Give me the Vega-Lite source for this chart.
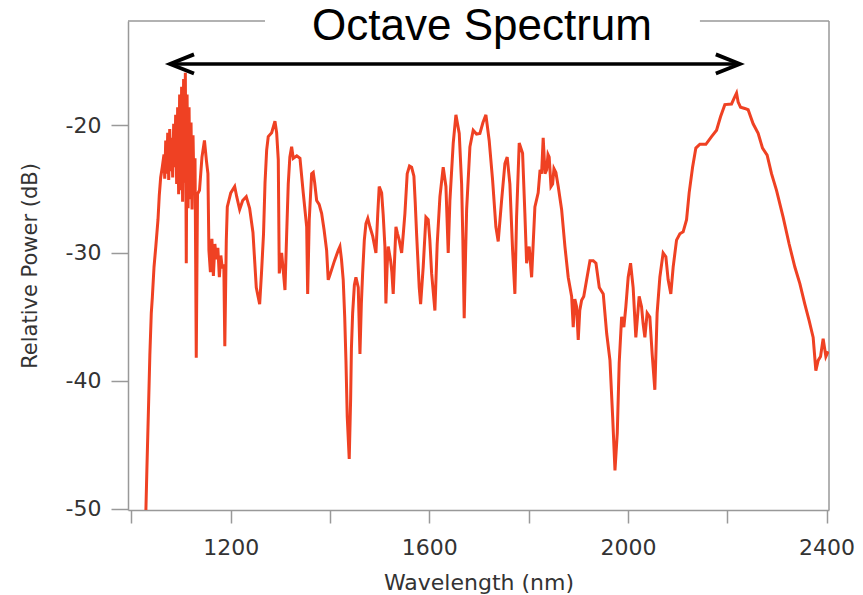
{
  "$schema": "https://vega.github.io/schema/vega-lite/v6.json",
  "width": 701,
  "height": 489,
  "autosize": {"type": "none"},
  "padding": {"left": 128, "top": 21, "right": 34, "bottom": 85},
  "background": "white",
  "config": {"view": {"stroke": null}},
  "datasets": {
    "spectrum": [
      {"wavelength": 1028.5, "power": -51}, {"wavelength": 1031, "power": -47}, {"wavelength": 1034.7, "power": -41.5}, {"wavelength": 1037, "power": -38}, {"wavelength": 1039.9, "power": -34.7}, {"wavelength": 1042, "power": -33.5}, {"wavelength": 1045.4, "power": -31.1}, {"wavelength": 1049, "power": -29.5}, {"wavelength": 1053.4, "power": -27.4}, {"wavelength": 1056, "power": -25.5}, {"wavelength": 1058.8, "power": -24.1}, {"wavelength": 1062, "power": -23.3}, {"wavelength": 1065.5, "power": -22.3},
      {"wavelength": 1067, "power": -24.2}, {"wavelength": 1069, "power": -21.2}, {"wavelength": 1071, "power": -23.8}, {"wavelength": 1073, "power": -20.6}, {"wavelength": 1075, "power": -24.3}, {"wavelength": 1077, "power": -20.3}, {"wavelength": 1079, "power": -23.6}, {"wavelength": 1081, "power": -21.0}, {"wavelength": 1083, "power": -24.1}, {"wavelength": 1085, "power": -19.9}, {"wavelength": 1087, "power": -23.3}, {"wavelength": 1089, "power": -19.2}, {"wavelength": 1091, "power": -24.6}, {"wavelength": 1093, "power": -18.6}, {"wavelength": 1095, "power": -25.4}, {"wavelength": 1097, "power": -17.6}, {"wavelength": 1099, "power": -25.1}, {"wavelength": 1101, "power": -17.0}, {"wavelength": 1103, "power": -26.0}, {"wavelength": 1105, "power": -16.4}, {"wavelength": 1107, "power": -24.5}, {"wavelength": 1108.5, "power": -15.9}, {"wavelength": 1110.4, "power": -30.8}, {"wavelength": 1112, "power": -17.6}, {"wavelength": 1114, "power": -26.5}, {"wavelength": 1116, "power": -18.6}, {"wavelength": 1118, "power": -25.8}, {"wavelength": 1120, "power": -19.8}, {"wavelength": 1122, "power": -26.6}, {"wavelength": 1124, "power": -20.8}, {"wavelength": 1126, "power": -25.4}, {"wavelength": 1128, "power": -22.6}, {"wavelength": 1130.5, "power": -38.2}, {"wavelength": 1133, "power": -25.4}, {"wavelength": 1137, "power": -25.1}, {"wavelength": 1142, "power": -22.5}, {"wavelength": 1147, "power": -21.2}, {"wavelength": 1151, "power": -22.8}, {"wavelength": 1154, "power": -23.8},
      {"wavelength": 1156, "power": -29.8}, {"wavelength": 1159, "power": -31.5}, {"wavelength": 1162, "power": -28.9}, {"wavelength": 1165, "power": -31.8}, {"wavelength": 1168, "power": -29.3}, {"wavelength": 1171, "power": -30.5}, {"wavelength": 1174, "power": -29.6}, {"wavelength": 1177, "power": -31.9}, {"wavelength": 1180, "power": -30.2}, {"wavelength": 1183, "power": -31.2}, {"wavelength": 1186, "power": -30.9}, {"wavelength": 1188, "power": -37.3}, {"wavelength": 1191, "power": -29.0}, {"wavelength": 1193, "power": -26.4}, {"wavelength": 1200, "power": -25.3}, {"wavelength": 1207.9, "power": -24.8}, {"wavelength": 1212, "power": -25.6}, {"wavelength": 1217.9, "power": -26.6}, {"wavelength": 1224, "power": -25.9}, {"wavelength": 1231.2, "power": -25.6}, {"wavelength": 1238, "power": -26.5}, {"wavelength": 1244.7, "power": -28.4}, {"wavelength": 1251.4, "power": -32.7}, {"wavelength": 1255, "power": -33.4}, {"wavelength": 1258.2, "power": -34.0}, {"wavelength": 1262, "power": -31.5}, {"wavelength": 1266, "power": -28.5}, {"wavelength": 1269, "power": -24.5}, {"wavelength": 1272.3, "power": -21.95}, {"wavelength": 1275.5, "power": -20.9}, {"wavelength": 1282.4, "power": -20.6}, {"wavelength": 1289, "power": -19.7}, {"wavelength": 1292.4, "power": -20.6}, {"wavelength": 1295.7, "power": -22.7}, {"wavelength": 1297.7, "power": -31.6}, {"wavelength": 1302.5, "power": -30.0}, {"wavelength": 1306, "power": -31.5}, {"wavelength": 1309.2, "power": -32.9}, {"wavelength": 1312.6, "power": -28.5}, {"wavelength": 1315.8, "power": -24.6}, {"wavelength": 1319, "power": -22.5}, {"wavelength": 1322.6, "power": -21.7}, {"wavelength": 1325.9, "power": -22.6}, {"wavelength": 1333, "power": -22.4}, {"wavelength": 1339.4, "power": -22.6}, {"wavelength": 1346, "power": -25.3}, {"wavelength": 1352.9, "power": -27.95}, {"wavelength": 1354.9, "power": -33.2}, {"wavelength": 1358.1, "power": -27.4}, {"wavelength": 1362.9, "power": -23.8}, {"wavelength": 1366.1, "power": -23.7}, {"wavelength": 1369, "power": -24.5}, {"wavelength": 1373, "power": -25.9}, {"wavelength": 1378, "power": -26.2}, {"wavelength": 1383, "power": -26.9}, {"wavelength": 1388, "power": -28.2}, {"wavelength": 1393.1, "power": -29.8}, {"wavelength": 1396.3, "power": -32.1}, {"wavelength": 1399, "power": -31.8}, {"wavelength": 1403.2, "power": -31.3}, {"wavelength": 1409, "power": -30.6}, {"wavelength": 1416.5, "power": -29.8}, {"wavelength": 1419.9, "power": -29.5}, {"wavelength": 1423, "power": -30.5}, {"wavelength": 1426.5, "power": -32.1}, {"wavelength": 1429.5, "power": -35}, {"wavelength": 1432, "power": -38.4}, {"wavelength": 1434.6, "power": -42.8}, {"wavelength": 1438.6, "power": -46.1}, {"wavelength": 1441.4, "power": -41.5}, {"wavelength": 1443, "power": -37.5}, {"wavelength": 1445.5, "power": -34.7}, {"wavelength": 1449, "power": -32.5}, {"wavelength": 1452.1, "power": -31.9}, {"wavelength": 1456.8, "power": -32.7}, {"wavelength": 1460.2, "power": -37.9}, {"wavelength": 1463, "power": -34}, {"wavelength": 1465.6, "power": -31.6}, {"wavelength": 1469, "power": -29}, {"wavelength": 1472.3, "power": -27.7}, {"wavelength": 1476, "power": -27.3}, {"wavelength": 1480.3, "power": -27.95}, {"wavelength": 1486, "power": -28.7}, {"wavelength": 1492.4, "power": -30.0}, {"wavelength": 1496, "power": -27}, {"wavelength": 1499, "power": -24.8}, {"wavelength": 1503.9, "power": -25.3}, {"wavelength": 1507, "power": -27}, {"wavelength": 1510.5, "power": -29.5}, {"wavelength": 1512.5, "power": -33.95}, {"wavelength": 1515, "power": -31}, {"wavelength": 1517.2, "power": -29.5}, {"wavelength": 1522, "power": -30.6}, {"wavelength": 1524.5, "power": -31.5}, {"wavelength": 1527.2, "power": -33.2}, {"wavelength": 1530, "power": -30.5}, {"wavelength": 1532.7, "power": -27.95}, {"wavelength": 1536, "power": -28.5}, {"wavelength": 1539.3, "power": -29.0}, {"wavelength": 1544.2, "power": -30.0}, {"wavelength": 1547.5, "power": -28.5}, {"wavelength": 1550.8, "power": -26.9}, {"wavelength": 1555.4, "power": -23.8}, {"wavelength": 1560, "power": -23.2}, {"wavelength": 1564.3, "power": -23.3}, {"wavelength": 1568.9, "power": -24.0}, {"wavelength": 1571.5, "power": -26}, {"wavelength": 1574.3, "power": -28.5}, {"wavelength": 1579.6, "power": -32.7}, {"wavelength": 1582.4, "power": -34.0}, {"wavelength": 1587.6, "power": -31.1}, {"wavelength": 1593.1, "power": -27.2}, {"wavelength": 1597.7, "power": -27.4}, {"wavelength": 1601, "power": -29}, {"wavelength": 1604.6, "power": -31.6}, {"wavelength": 1611.2, "power": -34.5}, {"wavelength": 1615.8, "power": -29.3}, {"wavelength": 1621.3, "power": -25.6}, {"wavelength": 1627.9, "power": -23.3}, {"wavelength": 1633.4, "power": -24.8}, {"wavelength": 1638, "power": -30.0}, {"wavelength": 1641.4, "power": -25.9}, {"wavelength": 1648.1, "power": -21.4}, {"wavelength": 1653.5, "power": -19.2}, {"wavelength": 1660.2, "power": -20.65}, {"wavelength": 1665, "power": -24.6}, {"wavelength": 1667.5, "power": -29}, {"wavelength": 1670.2, "power": -35.1}, {"wavelength": 1673, "power": -30}, {"wavelength": 1675.1, "power": -26.6}, {"wavelength": 1681.7, "power": -21.7}, {"wavelength": 1688.3, "power": -20.4}, {"wavelength": 1695, "power": -20.7}, {"wavelength": 1701.8, "power": -20.65}, {"wavelength": 1708, "power": -19.8}, {"wavelength": 1713.9, "power": -19.2}, {"wavelength": 1720.5, "power": -21.2}, {"wavelength": 1727.4, "power": -24.3}, {"wavelength": 1734, "power": -27.95}, {"wavelength": 1738.7, "power": -29.1}, {"wavelength": 1745.5, "power": -25.9}, {"wavelength": 1752.2, "power": -23.0}, {"wavelength": 1756.8, "power": -22.5}, {"wavelength": 1762.2, "power": -24.6}, {"wavelength": 1767.7, "power": -29.8}, {"wavelength": 1772.3, "power": -33.2}, {"wavelength": 1775.7, "power": -27.2}, {"wavelength": 1781, "power": -21.4}, {"wavelength": 1787.8, "power": -22.2}, {"wavelength": 1792.4, "power": -26.9}, {"wavelength": 1795.9, "power": -30.8}, {"wavelength": 1801.1, "power": -29.5}, {"wavelength": 1806, "power": -31.9}, {"wavelength": 1812.6, "power": -26.4}, {"wavelength": 1819.2, "power": -25.3}, {"wavelength": 1823, "power": -23.5}, {"wavelength": 1826.1, "power": -23.8}, {"wavelength": 1829.3, "power": -21.0}, {"wavelength": 1833, "power": -23.8}, {"wavelength": 1836.2, "power": -23.5}, {"wavelength": 1839, "power": -22.3}, {"wavelength": 1841.4, "power": -22.5}, {"wavelength": 1845, "power": -24.8}, {"wavelength": 1848.3, "power": -24.6}, {"wavelength": 1851, "power": -23.4}, {"wavelength": 1854.9, "power": -23.7}, {"wavelength": 1859.6, "power": -24.8}, {"wavelength": 1866.4, "power": -26.6}, {"wavelength": 1873.1, "power": -29.5}, {"wavelength": 1879.7, "power": -31.9}, {"wavelength": 1886.6, "power": -33.4}, {"wavelength": 1889.8, "power": -35.8}, {"wavelength": 1893, "power": -33.6}, {"wavelength": 1896.6, "power": -34.2}, {"wavelength": 1899.9, "power": -36.8}, {"wavelength": 1903, "power": -34.5}, {"wavelength": 1906.7, "power": -33.7}, {"wavelength": 1911, "power": -33.4}, {"wavelength": 1916.8, "power": -32.1}, {"wavelength": 1923.5, "power": -30.6}, {"wavelength": 1930.1, "power": -30.6}, {"wavelength": 1935.6, "power": -30.8}, {"wavelength": 1942.3, "power": -32.7}, {"wavelength": 1950.3, "power": -33.2}, {"wavelength": 1957.2, "power": -36.3}, {"wavelength": 1963.8, "power": -38.4}, {"wavelength": 1969.2, "power": -42.8}, {"wavelength": 1973.9, "power": -47.0}, {"wavelength": 1978.5, "power": -44.1}, {"wavelength": 1982.4, "power": -38.6}, {"wavelength": 1987.3, "power": -35.0}, {"wavelength": 1991.8, "power": -35.8}, {"wavelength": 1995.8, "power": -34.2}, {"wavelength": 2000.5, "power": -31.9}, {"wavelength": 2005.3, "power": -30.8}, {"wavelength": 2010.5, "power": -32.7}, {"wavelength": 2015.9, "power": -36.6}, {"wavelength": 2022.6, "power": -33.4}, {"wavelength": 2027.4, "power": -34.2}, {"wavelength": 2030.5, "power": -35.5}, {"wavelength": 2034.1, "power": -36.6}, {"wavelength": 2038.7, "power": -34.7}, {"wavelength": 2044.1, "power": -35.0}, {"wavelength": 2048.8, "power": -37.9}, {"wavelength": 2054.2, "power": -40.7}, {"wavelength": 2058.8, "power": -34.7}, {"wavelength": 2064.3, "power": -31.9}, {"wavelength": 2070.9, "power": -30.0}, {"wavelength": 2076.4, "power": -30.3}, {"wavelength": 2081, "power": -32.1}, {"wavelength": 2086.4, "power": -33.2}, {"wavelength": 2091.1, "power": -31.1}, {"wavelength": 2097.9, "power": -29.0}, {"wavelength": 2104.6, "power": -28.5}, {"wavelength": 2111.2, "power": -28.35}, {"wavelength": 2118.1, "power": -27.4}, {"wavelength": 2123.3, "power": -25.3}, {"wavelength": 2130.2, "power": -23.3}, {"wavelength": 2136.8, "power": -21.8}, {"wavelength": 2144.9, "power": -21.5}, {"wavelength": 2157, "power": -21.5}, {"wavelength": 2168.4, "power": -20.9}, {"wavelength": 2178.5, "power": -20.4}, {"wavelength": 2186.5, "power": -19.35}, {"wavelength": 2195.2, "power": -18.4}, {"wavelength": 2208.7, "power": -18.35}, {"wavelength": 2214, "power": -17.9}, {"wavelength": 2218.8, "power": -17.5}, {"wavelength": 2222, "power": -18.2}, {"wavelength": 2226.8, "power": -18.6}, {"wavelength": 2235.5, "power": -18.7}, {"wavelength": 2242.1, "power": -18.8}, {"wavelength": 2252.2, "power": -19.9}, {"wavelength": 2262.3, "power": -20.65}, {"wavelength": 2271.1, "power": -21.8}, {"wavelength": 2280.4, "power": -22.35}, {"wavelength": 2289.2, "power": -23.8}, {"wavelength": 2299.3, "power": -25.1}, {"wavelength": 2312.6, "power": -27.2}, {"wavelength": 2324.7, "power": -29.3}, {"wavelength": 2336.2, "power": -31.1}, {"wavelength": 2346.3, "power": -32.4}, {"wavelength": 2356.3, "power": -34.0}, {"wavelength": 2365, "power": -35.3}, {"wavelength": 2373.1, "power": -36.6}, {"wavelength": 2378.5, "power": -39.2}, {"wavelength": 2383.2, "power": -38.4}, {"wavelength": 2388, "power": -38.1}, {"wavelength": 2393.2, "power": -36.7}, {"wavelength": 2398.7, "power": -38.1}, {"wavelength": 2403.3, "power": -37.7}
    ],
    "frame": [
      {"wavelength": 993, "wavelength2": 1269, "power": -11.86, "power2": -11.86},
      {"wavelength": 2145, "wavelength2": 2405, "power": -11.86, "power2": -11.86},
      {"wavelength": 2405, "wavelength2": 2405, "power": -50.1, "power2": -11.86}
    ],
    "arrow": [
      {"wavelength": 1078, "wavelength2": 2225, "power": -15.22}
    ],
    "heads": [
      {"wavelength": 1077.6, "power": -15.22, "dir": "left"},
      {"wavelength": 2225.4, "power": -15.22, "dir": "right"}
    ],
    "heading": [
      {"wavelength": 1706, "power": -13.35, "label": "Octave Spectrum"}
    ]
  },
  "encoding": {
    "x": {
      "field": "wavelength", "type": "quantitative",
      "scale": {"domain": [993, 2405], "nice": false, "zero": false},
      "axis": {
        "title": "Wavelength (nm)",
        "values": [1000, 1200, 1400, 1600, 1800, 2000, 2200, 2400],
        "labelExpr": "datum.value % 400 === 0 ? toString(datum.value) : ''",
        "grid": false,
        "domainColor": "#999999", "domainWidth": 1.5,
        "tickColor": "#999999", "tickWidth": 1.5, "tickSize": 13,
        "labelFont": "DejaVu Sans", "labelFontSize": 22, "labelColor": "#333333", "labelPadding": 14,
        "labelFlush": false, "labelOverlap": false,
        "titleFont": "DejaVu Sans", "titleFontSize": 22, "titleFontWeight": "normal", "titleColor": "#333333",
        "titleBaseline": "alphabetic", "titleY": 79,
        "encode": {"ticks": {"update": {"y2": {"signal": "datum.value % 400 === 0 ? 13 : 7"}}}}
      }
    },
    "y": {
      "field": "power", "type": "quantitative",
      "scale": {"domain": [-50.1, -11.86], "nice": false, "zero": false},
      "axis": {
        "title": "Relative Power (dB)",
        "values": [-20, -30, -40, -50],
        "labelExpr": "toString(datum.value)",
        "grid": false,
        "domainColor": "#999999", "domainWidth": 1.5,
        "tickColor": "#999999", "tickWidth": 1.5, "tickSize": 17,
        "labelFont": "DejaVu Sans", "labelFontSize": 22, "labelColor": "#333333", "labelPadding": 10,
        "labelFlush": false, "labelOverlap": false,
        "titleFont": "DejaVu Sans", "titleFontSize": 21, "titleFontWeight": "normal", "titleColor": "#333333",
        "titleBaseline": "alphabetic", "titleX": -92
      }
    }
  },
  "layer": [
    {
      "data": {"name": "frame"},
      "mark": {"type": "rule", "color": "#999999", "strokeWidth": 1.5},
      "encoding": {"x2": {"field": "wavelength2"}, "y2": {"field": "power2"}}
    },
    {
      "data": {"name": "spectrum"},
      "mark": {"type": "line", "color": "#EF4123", "strokeWidth": 3, "clip": true}
    },
    {
      "data": {"name": "arrow"},
      "mark": {"type": "rule", "color": "#000000", "strokeWidth": 3.6, "strokeCap": "butt"},
      "encoding": {"x2": {"field": "wavelength2"}}
    },
    {
      "data": {"name": "heads"},
      "mark": {"type": "point", "filled": false, "color": "#000000", "opacity": 1, "strokeWidth": 3.8, "strokeJoin": "miter", "size": 2304},
      "encoding": {
        "shape": {"field": "dir", "type": "nominal", "scale": {"domain": ["left", "right"], "range": ["M 1 -0.4 L 0 0 L 1 0.4", "M -1 -0.4 L 0 0 L -1 0.4"]}, "legend": null}
      }
    },
    {
      "data": {"name": "heading"},
      "mark": {"type": "text", "font": "Liberation Sans", "fontSize": 44, "fontWeight": "normal", "color": "#000000", "align": "center", "baseline": "alphabetic"},
      "encoding": {"text": {"field": "label", "type": "nominal"}}
    }
  ]
}
